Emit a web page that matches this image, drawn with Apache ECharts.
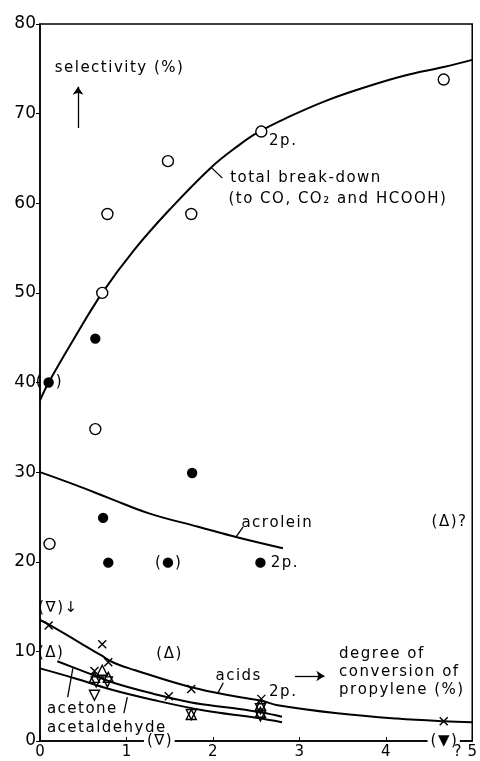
<!DOCTYPE html>
<html>
<head>
<meta charset="utf-8">
<script src="https://cdn.jsdelivr.net/npm/echarts@6/dist/echarts.min.js"></script>
<style>html,body{margin:0;padding:0;background:#fff}#c{width:480px;height:761px}</style>
</head>
<body>
<div id="c"></div>
<script>
// ---- data ----
const xTickValues = [0, 1, 2, 3, 4, 5];
const yTickValues = [0, 10, 20, 30, 40, 50, 60, 70, 80];

// total break-down (open circles) and fitted curve
const totalPoints = [[0.11,22],[0.64,34.8],[0.72,50],[0.78,58.8],[1.48,64.7],[1.75,58.8],[2.56,68],[4.67,73.8]];
const totalCurve = [[0,38],[0.1,40],[0.4,45],[0.72,50],[1.09,54.8],[1.5,59.3],[1.98,64],[2.29,66.4],[2.52,67.9],[2.87,69.6],[3.3,71.4],[3.78,73],[4.2,74.2],[4.67,75.2],[5,76]];

// acrolein (filled circles) and curve
const acroleinPoints = [[0.1,40],[0.64,44.9],[0.73,24.9],[0.79,19.9],[1.48,19.9],[1.76,29.9],[2.55,19.9]];
const acroleinCurve = [[0,30],[0.4,28.6],[0.8,27.1],[1.26,25.4],[1.83,23.9],[2.29,22.7],[2.81,21.5]];

// acids (x) and curve
const acidsPoints = [[0.1,12.9],[0.63,7.8],[0.72,10.8],[0.79,8.8],[1.49,5.0],[1.75,5.8],[2.56,4.7],[4.67,2.2]];
const acidsCurve = [[0,13.5],[0.1,13],[0.7,9.6],[0.86,8.7],[1.1,7.9],[1.75,6.0],[2.3,4.9],[2.56,4.5],[2.75,4.0],[3.44,3.1],[4.13,2.5],[4.67,2.2],[5,2.1]];

// acetone (up triangles) and curve
const acetonePoints = [[0.63,7.1],[0.72,7.9],[0.79,7.1],[1.75,2.95],[2.55,4.0],[2.55,3.2]];
const acetoneCurve = [[0.2,8.9],[0.55,7.6],[0.85,6.5],[1.3,5.3],[1.75,4.3],[2.2,3.7],[2.55,3.2],[2.8,2.7]];

// acetaldehyde (down triangles) and curve
const acetaldehydePoints = [[0.63,5.1],[0.65,6.6],[0.78,6.6],[1.75,2.95],[2.55,3.6],[2.55,2.8]];
const acetaldehydeCurve = [[0,8.1],[0.4,7.0],[0.8,5.8],[1.3,4.6],[1.9,3.4],[2.5,2.6],[2.8,2.1]];

// text annotations in data coordinates
const annotations = [
  {t:'selectivity (%)', x:0.17, y:75.1, a:'left'},
  {t:'total break-down', x:2.2, y:62.8, a:'left'},
  {t:'(to CO, CO\u2082 and HCOOH)', x:2.18, y:60.5, a:'left'},
  {t:'2p.', x:2.65, y:66.9, a:'left'},
  {t:'acrolein', x:2.33, y:24.3, a:'left'},
  {t:'2p.', x:2.67, y:19.9, a:'left'},
  {t:'(\u0394)?', x:4.53, y:24.4, a:'left'},
  {t:'(\u2207)\u2193', x:-0.02, y:14.8, a:'left'},
  {t:'(\u0394)', x:0.12, y:9.8, a:'center'},
  {t:'(\u0394)', x:1.49, y:9.7, a:'center'},
  {t:'acids', x:2.03, y:7.25, a:'left'},
  {t:'degree of', x:3.46, y:9.7, a:'left'},
  {t:'conversion of', x:3.46, y:7.7, a:'left'},
  {t:'propylene (%)', x:3.46, y:5.7, a:'left'},
  {t:'2p.', x:2.65, y:5.5, a:'left'},
  {t:'acetone', x:0.08, y:3.6, a:'left'},
  {t:'acetaldehyde', x:0.08, y:1.45, a:'left'},
  {t:'(\u2207)', x:1.38, y:0, a:'center', bg:true},
  {t:'(\u25BC)', x:4.67, y:0, a:'center', bg:true},
  {t:'?', x:4.83, y:-1.2, a:'center'},
  {t:'(  )', x:0.1, y:40, a:'center'},
  {t:'(  )', x:1.48, y:19.9, a:'center'}
];

// leader lines and arrows (data coordinates)
const leaders = [
  [[1.98,64],[2.11,62.8]],
  [[2.35,23.9],[2.27,22.8]],
  [[2.06,5.4],[2.12,6.5]],
  [[0.38,8.1],[0.32,4.9]],
  [[1.01,4.9],[0.97,3.1]]
];
const arrows = [
  [[0.44,68.4],[0.44,73]],
  [[2.95,7.25],[3.29,7.25]]
];

const FONT = 'DejaVu Sans';
const chart = echarts.init(document.getElementById('c'), null, {renderer:'canvas'});

function spaced(s) { return s.split('').join('\u200A'); }
function curve(data) {
  return {type:'line', data:data, smooth:0.4, showSymbol:false, symbol:'none',
    lineStyle:{color:'#000', width:2}, silent:true, z:2};
}
function pts(data, symbol, size, fill, rot) {
  return {type:'scatter', data:data, symbol:symbol, symbolSize:size, symbolRotate:rot||0,
    itemStyle:{color:fill, borderColor:'#000', borderWidth:1.4, opacity:1}, z:4, silent:true};
}

chart.setOption({
  animation:false,
  backgroundColor:'#fff',
  grid:{left:40, right:4, top:24, bottom:20, show:true, borderColor:'#000', borderWidth:1.5, backgroundColor:'transparent'},
  xAxis:{type:'value', min:0, max:5, interval:1,
    axisLine:{show:true, lineStyle:{color:'#000', width:1.5}},
    axisTick:{show:true, inside:true, length:4, lineStyle:{color:'#000'}},
    splitLine:{show:false},
    axisLabel:{color:'#000', fontFamily:FONT, fontSize:15, margin:4,
      formatter: v => xTickValues.includes(v) ? String(v) : ''}},
  yAxis:{type:'value', min:0, max:80, interval:10,
    axisLine:{show:true, lineStyle:{color:'#000', width:1.5}},
    axisTick:{show:true, length:4, lineStyle:{color:'#000'}},
    splitLine:{show:false},
    axisLabel:{color:'#000', fontFamily:FONT, fontSize:17, margin:4,
      formatter: v => yTickValues.includes(v) ? String(v) : ''}},
  series:[
    curve(totalCurve), curve(acroleinCurve), curve(acidsCurve), curve(acetoneCurve), curve(acetaldehydeCurve),
    pts(totalPoints, 'circle', 11, '#fff'),
    pts(acroleinPoints, 'circle', 9, '#000'),
    pts(acidsPoints, 'path://M0,0L10,10M10,0L0,10', 8, 'transparent'),
    pts(acetonePoints, 'triangle', 10, 'transparent'),
    pts(acetaldehydePoints, 'triangle', 10, 'transparent', 180),
    {type:'line', data:[], silent:true,
      markLine:{silent:true, symbol:['none','none'], label:{show:false},
        lineStyle:{color:'#000', width:1.3, type:'solid'},
        data: leaders.map(l => [{coord:l[0]},{coord:l[1]}]).concat(
          arrows.map(l => [{coord:l[0], symbol:'none'},{coord:l[1], symbol:'arrow', symbolSize:8}]))}}
  ]
});

const graphics = annotations.map(a => {
  const p = chart.convertToPixel({gridIndex:0}, [a.x, a.y]);
  return {type:'text', x:p[0], y:p[1], z:10,
    style:{text:spaced(a.t), fill:'#000', font:'15px "' + FONT + '"', textAlign:a.a, textVerticalAlign:'middle',
      backgroundColor: a.bg ? '#fff' : undefined, padding: a.bg ? [0,3] : 0}};
});
chart.setOption({graphic:graphics});
</script>
</body>
</html>
